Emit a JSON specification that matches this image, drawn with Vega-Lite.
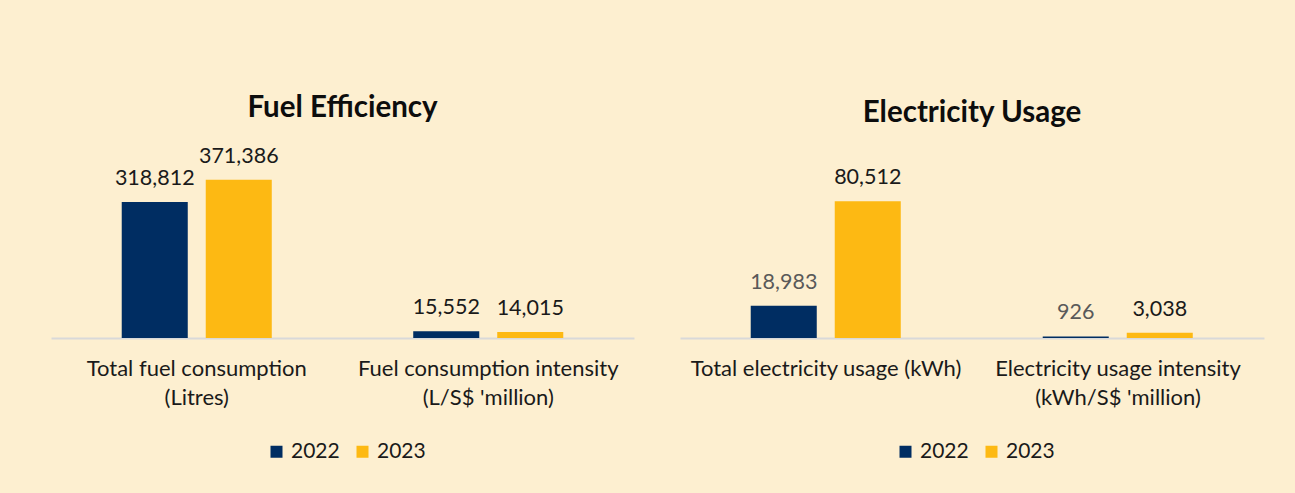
{
  "$schema": "https://vega.github.io/schema/vega-lite/v6.json",
  "background": "#FDEFD0",
  "padding": {"left": 51, "top": 92, "right": 31, "bottom": 35},
  "autosize": {"type": "pad"},
  "datasets": {
    "fuel": [
      {"category": "Total fuel consumption (Litres)", "year": "2022", "value": 318812},
      {"category": "Total fuel consumption (Litres)", "year": "2023", "value": 371386},
      {"category": "Fuel consumption intensity (L/S$ 'million)", "year": "2022", "value": 15552},
      {"category": "Fuel consumption intensity (L/S$ 'million)", "year": "2023", "value": 14015}
    ],
    "elec": [
      {"category": "Total electricity usage (kWh)", "year": "2022", "value": 18983},
      {"category": "Total electricity usage (kWh)", "year": "2023", "value": 80512},
      {"category": "Electricity usage intensity (kWh/S$ 'million)", "year": "2022", "value": 926},
      {"category": "Electricity usage intensity (kWh/S$ 'million)", "year": "2023", "value": 3038}
    ]
  },
  "spacing": 46,
  "hconcat": [
    {
      "width": 583,
      "height": 197,
      "title": {"text": "Fuel Efficiency", "offset": 18},
      "data": {"name": "fuel"},
      "encoding": {
        "x": {
          "field": "category", "type": "nominal", "sort": null, "title": null,
          "scale": {"paddingInner": 0, "paddingOuter": 0},
          "axis": {
            "labelExpr": "length(datum.label) > 30 ? [slice(datum.label, 0, indexof(datum.label, ' (')), slice(datum.label, indexof(datum.label, ' (') + 1)] : datum.label"
          }
        },
        "xOffset": {"field": "year", "type": "nominal", "scale": {"paddingInner": 0.214, "paddingOuter": 0.842}},
        "y": {"field": "value", "type": "quantitative", "scale": {"domain": [0, 462200]}, "axis": null}
      },
      "layer": [
        {
          "mark": {"type": "bar"},
          "encoding": {
            "color": {
              "field": "year", "type": "nominal",
              "scale": {"domain": ["2022", "2023"], "range": ["#002D62", "#FDB913"]},
              "legend": {"orient": "none", "legendX": 215, "legendY": 300}
            }
          }
        },
        {
          "mark": {"type": "text", "baseline": "alphabetic", "dy": -17, "fontSize": 21.5, "font": "Lato"},
          "encoding": {
            "text": {"field": "value", "type": "quantitative", "format": ","},
            "color": {"value": "#1a1a1a"}
          }
        }
      ]
    },
    {
      "width": 584,
      "height": 197,
      "title": {"text": "Electricity Usage", "offset": 13},
      "data": {"name": "elec"},
      "encoding": {
        "x": {
          "field": "category", "type": "nominal", "sort": null, "title": null,
          "scale": {"paddingInner": 0, "paddingOuter": 0},
          "axis": {
            "labelExpr": "length(datum.label) > 30 ? [slice(datum.label, 0, indexof(datum.label, ' (')), slice(datum.label, indexof(datum.label, ' (') + 1)] : datum.label"
          }
        },
        "xOffset": {"field": "year", "type": "nominal", "scale": {"paddingInner": 0.214, "paddingOuter": 0.842}},
        "y": {"field": "value", "type": "quantitative", "scale": {"domain": [0, 116000]}, "axis": null}
      },
      "layer": [
        {
          "mark": {"type": "bar"},
          "encoding": {
            "color": {
              "field": "year", "type": "nominal",
              "scale": {"domain": ["2022", "2023"], "range": ["#002D62", "#FDB913"]},
              "legend": {"orient": "none", "legendX": 215, "legendY": 300}
            }
          }
        },
        {
          "mark": {"type": "text", "baseline": "alphabetic", "dy": -17, "fontSize": 21.5, "font": "Lato"},
          "encoding": {
            "text": {"field": "value", "type": "quantitative", "format": ","},
            "color": {"condition": {"test": "datum.year === '2022'", "value": "#595959"}, "value": "#1a1a1a"}
          }
        }
      ]
    }
  ],
  "resolve": {"scale": {"color": "independent"}, "legend": {"color": "independent"}},
  "config": {
    "view": {"stroke": null},
    "title": {"font": "Lato", "fontSize": 29.5, "fontWeight": "bold", "color": "#0d0d0d", "baseline": "alphabetic", "frame": "group", "anchor": "middle"},
    "axisX": {
      "domainColor": "#D9D9D9", "domainWidth": 2, "ticks": false, "labelAngle": 0,
      "labelFont": "Lato", "labelFontSize": 22, "labelColor": "#1a1a1a",
      "labelPadding": 20, "labelBaseline": "top", "labelLineHeight": 29, "labelLimit": 0, "grid": false
    },
    "legend": {
      "direction": "horizontal", "title": null, "symbolType": "square", "symbolSize": 144,
      "symbolStrokeWidth": 0, "labelFont": "Lato", "labelFontSize": 21, "labelColor": "#1a1a1a",
      "columnPadding": 12, "labelOffset": 4
    }
  }
}
